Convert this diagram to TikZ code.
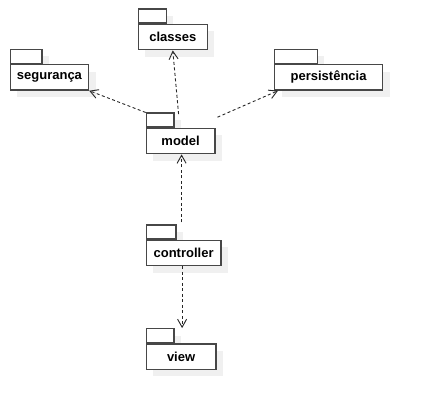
\documentclass[tikz,border=0pt]{standalone}
\usepackage{fontspec}
\setmainfont{Liberation Sans}
\usetikzlibrary{arrows.meta,shadows}
\tikzset{
  pkgshadow/.style={drop shadow={shadow xshift=7pt, shadow yshift=-7pt, fill=black!6, draw=none, opacity=1}},
  pkgtab/.style={draw=black!72, line width=1.2pt, fill=white, minimum height=14pt, inner sep=0pt, anchor=south west, pkgshadow},
  pkgbody/.style={draw=black!72, line width=1.2pt, fill=white, minimum height=25.5pt, inner sep=0pt, anchor=north west, pkgshadow,
     font=\fontsize{13}{15}\selectfont\bfseries},
  dep/.style={draw=black!85, line width=0.9pt, dash pattern=on 3pt off 2.5pt, -{Straight Barb[length=8pt,width=9pt,line width=0.9pt]}}
}
\newcommand\umlpkg[6]{%
  \node[pkgtab, minimum width=#5] (#1-tab) at (#2,#3) {};
  \node[pkgbody, minimum width=#4] (#1) at (#2,#3) {#6};
}
\begin{document}
\begin{tikzpicture}[x=1pt,y=-1pt]
\useasboundingbox (0,0) rectangle (421,409);
\umlpkg{classes}{137.7}{23.7}{69pt}{28pt}{classes}
\umlpkg{seg}{9.7}{64}{78.3pt}{31.6pt}{segurança}
\umlpkg{pers}{274}{64}{108pt}{42.7pt}{persistência}
\umlpkg{model}{145.7}{127.7}{68.6pt}{27.6pt}{model}
\umlpkg{controller}{145.7}{239.7}{74.6pt}{29.6pt}{controller}
\umlpkg{view}{145.7}{343.3}{69.6pt}{27.6pt}{view}

\draw[dep] (model-tab.north west) -- (seg.south east);
\draw[dep] ([shift={(-2,-13.5)}]model.north) -- (classes.south);
\draw[dep] ([shift={(2,-10.5)}]model.north east) -- ([xshift=4]pers.south west);
\coordinate (c1) at ([shift={(-1.5,-2)}]controller-tab.north east);
\draw[dep] (c1 -| model.south) ++(1,0) coordinate (c1b) -- (c1b |- model.south);
\coordinate (c2) at ([xshift=-1.5]controller.south);
\draw[dep] (c2) -- (c2 |- view-tab.north);
\end{tikzpicture}
\end{document}
